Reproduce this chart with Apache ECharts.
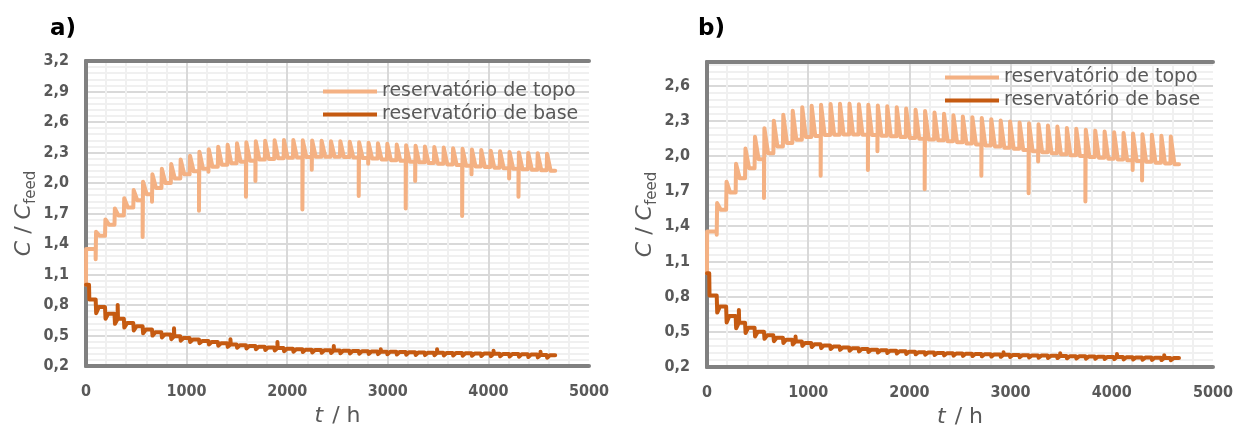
<!DOCTYPE html>
<html>
<head>
<meta charset="utf-8">
<script src="https://cdn.jsdelivr.net/npm/echarts@6/dist/echarts.min.js"></script>
<style>
html,body{margin:0;padding:0;background:#fff;}
#chart{width:1236px;height:425px;}
</style>
</head>
<body>
<div id="chart"></div>
<script>
// ---------- DATA ----------
const seriesNames = ['reservatório de topo', 'reservatório de base'];
const xTicks = [0, 1000, 2000, 3000, 4000, 5000];
const endT = 4664;
// times (h) of each operating cycle
const cycleT = [96,189,283,376,470,563,656,750,843,937,1030,1123,1217,1310,1404,1497,1590,1684,1777,1871,1964,2057,2151,2244,2338,2431,2524,2618,2711,2805,2898,2991,3085,3178,3272,3365,3458,3552,3645,3739,3832,3925,4019,4112,4206,4299,4392,4486,4579];

// ----- chart a) -----
const topStartA = [1.0, 1.35];
const topPeakA = [1.52,1.642,1.75,1.849,1.93,2.012,2.085,2.14,2.186,2.232,2.268,2.307,2.331,2.357,2.376,2.39,2.40,2.41,2.415,2.42,2.422,2.422,2.42,2.418,2.415,2.41,2.41,2.405,2.40,2.395,2.39,2.385,2.378,2.372,2.366,2.36,2.354,2.348,2.342,2.336,2.33,2.324,2.318,2.312,2.306,2.30,2.296,2.292,2.288];
const topPlateauA = [1.48,1.59,1.68,1.76,1.83,1.89,1.95,2.0,2.045,2.085,2.115,2.14,2.16,2.18,2.195,2.21,2.22,2.23,2.237,2.243,2.248,2.252,2.255,2.257,2.258,2.258,2.255,2.25,2.245,2.24,2.232,2.225,2.218,2.21,2.203,2.196,2.19,2.183,2.176,2.17,2.163,2.157,2.151,2.145,2.14,2.135,2.13,2.125,2.12];
const topDipTA = [96,563,656,1123,1217,1590,1684,2151,2244,2711,2805,3178,3272,3739,3832,4206,4299];
const topDipVA = [1.25,1.47,1.816,1.727,2.11,1.865,2.02,1.74,2.13,1.872,2.19,1.75,2.02,1.675,2.085,2.045,1.865];
const baseStartA = [1.0, 30, 0.855];
const baseTroughA = [0.72,0.665,0.615,0.578,0.55,0.522,0.499,0.48,0.464,0.449,0.436,0.423,0.411,0.40,0.388,0.38,0.372,0.365,0.358,0.352,0.346,0.341,0.337,0.333,0.33,0.328,0.325,0.323,0.321,0.319,0.317,0.315,0.313,0.311,0.309,0.307,0.306,0.304,0.303,0.301,0.30,0.298,0.297,0.295,0.293,0.291,0.288,0.285,0.282];
const basePlateauA = [0.78,0.715,0.665,0.622,0.59,0.558,0.531,0.51,0.492,0.475,0.46,0.447,0.435,0.424,0.412,0.404,0.396,0.389,0.382,0.376,0.37,0.365,0.361,0.357,0.354,0.352,0.349,0.347,0.345,0.343,0.341,0.339,0.337,0.335,0.333,0.331,0.33,0.328,0.327,0.325,0.324,0.322,0.321,0.319,0.317,0.315,0.312,0.309,0.306];
const baseBumpTA = [283,843,1404,1871,2431,2898,3458,4019,4486];
const baseBumpVA = [0.80,0.571,0.462,0.436,0.397,0.364,0.364,0.35,0.341];

// ----- chart b) -----
const topStartB = [1.0, 1.355];
const topPeakB = [1.597,1.78,1.932,2.062,2.163,2.236,2.30,2.35,2.384,2.414,2.427,2.435,2.442,2.444,2.444,2.44,2.436,2.43,2.422,2.414,2.404,2.394,2.382,2.37,2.358,2.346,2.336,2.33,2.322,2.313,2.302,2.292,2.284,2.278,2.27,2.258,2.25,2.238,2.23,2.222,2.215,2.208,2.201,2.195,2.19,2.185,2.179,2.172,2.165];
const topPlateauB = [1.54,1.687,1.81,1.895,1.972,2.023,2.08,2.109,2.137,2.16,2.17,2.178,2.18,2.182,2.182,2.18,2.177,2.172,2.166,2.16,2.153,2.146,2.14,2.132,2.124,2.115,2.106,2.097,2.088,2.079,2.07,2.06,2.05,2.04,2.031,2.022,2.013,2.005,1.998,1.99,1.983,1.976,1.969,1.962,1.956,1.949,1.942,1.935,1.928];
const topDipTB = [96,563,1123,1590,1684,2151,2711,3178,3272,3739,4206,4299];
const topDipVB = [1.327,1.64,1.83,1.88,2.04,1.716,1.83,1.682,1.952,1.61,1.88,1.79];
const baseStartB = [1.0, 22, 0.81];
const baseTroughB = [0.664,0.58,0.53,0.49,0.46,0.44,0.42,0.405,0.392,0.38,0.37,0.361,0.353,0.346,0.339,0.333,0.328,0.323,0.319,0.315,0.311,0.308,0.305,0.302,0.299,0.297,0.295,0.293,0.291,0.289,0.287,0.285,0.283,0.281,0.279,0.277,0.276,0.274,0.273,0.271,0.27,0.268,0.267,0.265,0.264,0.262,0.261,0.259,0.258];
const basePlateauB = [0.716,0.635,0.578,0.535,0.50,0.47,0.45,0.433,0.418,0.405,0.394,0.384,0.375,0.367,0.36,0.354,0.348,0.343,0.338,0.334,0.33,0.326,0.323,0.32,0.317,0.315,0.313,0.311,0.309,0.307,0.305,0.303,0.301,0.299,0.297,0.295,0.294,0.292,0.291,0.289,0.288,0.286,0.285,0.283,0.282,0.28,0.279,0.277,0.276];
const baseBumpTB = [283,843,1404,1871,2431,2898,3458,4019,4486];
const baseBumpVB = [0.686,0.46,0.373,0.351,0.33,0.325,0.317,0.31,0.30];

// ---------- build polylines from the values ----------
function buildTop(start, peaks, plats, dipT, dipV) {
  const pts = [[0, start[0]], [1, start[1]]];
  let prev = start[1];
  cycleT.forEach((t, i) => {
    pts.push([t, prev]);
    const k = dipT.indexOf(t);
    if (k >= 0) pts.push([t, dipV[k]]);
    pts.push([t + 4, peaks[i]]);
    pts.push([t + 40, plats[i]]);
    prev = plats[i];
  });
  pts.push([endT, prev]);
  return pts;
}
function buildBase(start, troughs, plats, bumpT, bumpV) {
  const pts = [[0, start[0]], [start[1], start[0]], [start[1] + 3, start[2]]];
  let prev = start[2];
  cycleT.forEach((t, i) => {
    pts.push([t, prev]);
    pts.push([t + 5, troughs[i]]);
    pts.push([t + 32, plats[i]]);
    const k = bumpT.indexOf(t);
    if (k >= 0) { pts.push([t + 32, bumpV[k]]); pts.push([t + 35, plats[i]]); }
    prev = plats[i];
  });
  pts.push([endT, prev]);
  return pts;
}

const TOP_COLOR = '#F4B183', BASE_COLOR = '#C55A11';
const TICK_FONT = '"DejaVu Sans Condensed","DejaVu Sans",sans-serif';
const TXT_FONT = '"DejaVu Sans",sans-serif';
const GRAY = '#595959';
const BORDER = {show: true, lineStyle: {color: '#808080', width: 4}};
const fmtY = v => v.toFixed(1).replace('.', ',');
const fmtX = v => String(Math.round(v));

function xAxisDef(gi) {
  return {
    gridIndex: gi, type: 'value', min: xTicks[0], max: xTicks[xTicks.length - 1], interval: 1000,
    axisLine: BORDER, axisTick: {show: false},
    axisLabel: {color: GRAY, fontWeight: 'bold', fontSize: 16, fontFamily: TICK_FONT, margin: 18, formatter: fmtX},
    splitLine: {show: true, showMinLine: false, showMaxLine: false, lineStyle: {color: '#D9D9D9', width: 2}},
    minorTick: {show: false, splitNumber: 5},
    minorSplitLine: {show: true, lineStyle: {color: '#F0F0F0', width: 2}},
    name: '{i|t} / h', nameLocation: 'middle', nameGap: 36,
    nameTextStyle: {color: GRAY, fontSize: 22, fontFamily: TXT_FONT,
      rich: {i: {fontStyle: 'italic', fontSize: 22, color: GRAY, fontFamily: TXT_FONT, padding: [0, 2, 0, 0]}}}
  };
}
function yAxisDef(gi, max) {
  return {
    gridIndex: gi, type: 'value', min: 0.2, max: max, interval: 0.3,
    axisLine: BORDER, axisTick: {show: false},
    axisLabel: {color: GRAY, fontWeight: 'bold', fontSize: 16, fontFamily: TICK_FONT, margin: 17,
      formatter: fmtY, showMaxLabel: gi === 0},
    splitLine: {show: true, showMinLine: false, showMaxLine: false, lineStyle: {color: '#D9D9D9', width: 2}},
    minorTick: {show: false, splitNumber: 5},
    minorSplitLine: {show: true, lineStyle: {color: '#F0F0F0', width: 2}},
    name: '{i|C} / {i|C}{s|feed}', nameLocation: 'middle', nameGap: 47,
    nameTextStyle: {color: GRAY, fontSize: 22, fontFamily: TXT_FONT, lineHeight: 30,
      rich: {
        i: {fontStyle: 'italic', fontSize: 22, color: GRAY, fontFamily: TXT_FONT, lineHeight: 30},
        s: {fontSize: 15, color: GRAY, fontFamily: TXT_FONT, lineHeight: 15, verticalAlign: 'bottom'}
      }}
  };
}
// frame on the top/right edges
function frameX(gi) {
  return {gridIndex: gi, type: 'value', position: 'top', min: 0, max: 5000,
    axisLine: BORDER, axisTick: {show: false}, axisLabel: {show: false}, splitLine: {show: false}};
}
function frameY(gi, max) {
  return {gridIndex: gi, type: 'value', position: 'right', min: 0.2, max: max,
    axisLine: BORDER, axisTick: {show: false}, axisLabel: {show: false}, splitLine: {show: false}};
}
function legendDef(left, top) {
  return {
    left: left, top: top, orient: 'vertical', padding: 0, itemGap: 4,
    itemWidth: 54, itemHeight: 4, icon: 'rect', selectedMode: false,
    textStyle: {color: GRAY, fontSize: 19, fontFamily: TXT_FONT, lineHeight: 19},
    data: seriesNames
  };
}
function lineSeries(name, data, color, gi) {
  return {
    name: name, type: 'line', xAxisIndex: gi, yAxisIndex: gi, data: data,
    showSymbol: false, symbol: 'none', color: color, z: 3,
    lineStyle: {color: color, width: 4, cap: 'round', join: 'round'}
  };
}

const chart = echarts.init(document.getElementById('chart'), null, {renderer: 'canvas'});
chart.setOption({
  animation: false,
  backgroundColor: '#fff',
  title: [
    {text: 'a)', left: 50, top: 18, padding: 0, textStyle: {fontSize: 23, fontWeight: 'bold', color: '#000', fontFamily: TXT_FONT}},
    {text: 'b)', left: 698, top: 18, padding: 0, textStyle: {fontSize: 23, fontWeight: 'bold', color: '#000', fontFamily: TXT_FONT}}
  ],
  grid: [
    {left: 86, top: 61, width: 503, height: 305, show: false, containLabel: false, outerBoundsMode: 'none'},
    {left: 707, top: 62, width: 506, height: 305, show: false, containLabel: false, outerBoundsMode: 'none'}
  ],
  xAxis: [xAxisDef(0), xAxisDef(1), frameX(0), frameX(1)],
  yAxis: [yAxisDef(0, 3.2), yAxisDef(1, 2.8), frameY(0, 3.2), frameY(1, 2.8)],
  legend: [legendDef(323, 82), legendDef(945, 68)],
  series: [
    lineSeries(seriesNames[0], buildTop(topStartA, topPeakA, topPlateauA, topDipTA, topDipVA), TOP_COLOR, 0),
    lineSeries(seriesNames[1], buildBase(baseStartA, baseTroughA, basePlateauA, baseBumpTA, baseBumpVA), BASE_COLOR, 0),
    lineSeries(seriesNames[0], buildTop(topStartB, topPeakB, topPlateauB, topDipTB, topDipVB), TOP_COLOR, 1),
    lineSeries(seriesNames[1], buildBase(baseStartB, baseTroughB, basePlateauB, baseBumpTB, baseBumpVB), BASE_COLOR, 1)
  ]
});
</script>
</body>
</html>
